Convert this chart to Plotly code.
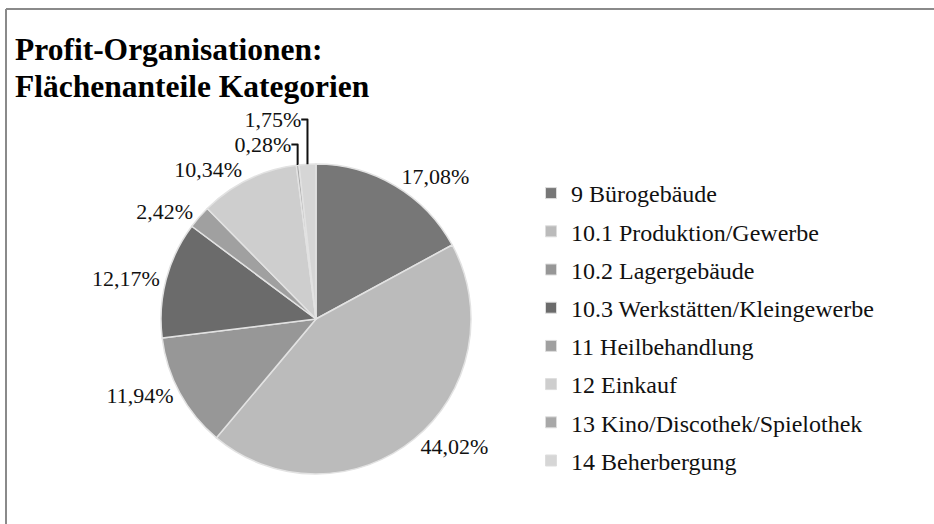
import plotly.graph_objects as go

categories = [
    "9 Bürogebäude",
    "10.1 Produktion/Gewerbe",
    "10.2 Lagergebäude",
    "10.3 Werkstätten/Kleingewerbe",
    "11 Heilbehandlung",
    "12 Einkauf",
    "13 Kino/Discothek/Spielothek",
    "14 Beherbergung",
]
shares = [17.08, 44.02, 11.94, 12.17, 2.42, 10.34, 0.28, 1.75]
colors = ["#777777", "#bbbbbb", "#979797", "#6b6b6b", "#a0a0a0", "#cecece", "#a8a8a8", "#d6d6d6"]
title_lines = ["Profit-Organisationen:", "Flächenanteile Kategorien"]

W, H = 934, 524
FONT = "Liberation Serif, Times New Roman, serif"

# pie geometry (pixels)
cx, cy, r = 316, 319, 155

fig = go.Figure()
fig.add_trace(go.Pie(
    labels=categories,
    values=shares,
    sort=False,
    direction="clockwise",
    rotation=0,
    marker=dict(colors=colors, line=dict(color="#e2e2e2", width=1.5)),
    textposition="outside",
    texttemplate="%{value:.2f}%",
    textfont=dict(family=FONT, size=22, color="#111111"),
    showlegend=False,
    domain=dict(x=[(cx - r) / W, (cx + r) / W], y=[(H - cy - r) / H, (H - cy + r) / H]),
    hoverinfo="label+percent",
))

for i, (c, col) in enumerate(zip(categories, colors)):
    fig.add_trace(go.Scatter(
        x=[None], y=[None], mode="markers", name=c,
        marker=dict(symbol="square", size=11, color=col, line=dict(color="#dddddd", width=1)),
        legendgroup=f"g{i}", showlegend=True, hoverinfo="skip",
    ))

annotations = []
for k, t in enumerate(title_lines):
    annotations.append(dict(
        text=f"<b>{t}</b>", xref="paper", yref="paper",
        x=13 / W, xanchor="left", y=1 - (50 + 36 * k) / H, yanchor="middle",
        showarrow=False, font=dict(family=FONT, size=31.5, color="#000000"),
    ))

fig.update_layout(
    width=W, height=H,
    margin=dict(l=0, r=0, t=0, b=0, autoexpand=False),
    paper_bgcolor="white", plot_bgcolor="white",
    separators=",.",
    xaxis=dict(visible=False), yaxis=dict(visible=False),
    annotations=annotations,
    legend=dict(
        x=531 / W, xanchor="left", y=1 - 171 / H, yanchor="top",
        font=dict(family=FONT, size=24, color="#111111"),
        tracegroupgap=4, itemwidth=30,
        bgcolor="rgba(0,0,0,0)",
    ),
    shapes=[
        dict(type="line", xref="paper", yref="paper", x0=6 / W, x1=1, y0=1 - 9 / H, y1=1 - 9 / H,
             line=dict(color="#8a8a8a", width=2)),
        dict(type="line", xref="paper", yref="paper", x0=6 / W, x1=6 / W, y0=0, y1=1 - 9 / H,
             line=dict(color="#8a8a8a", width=2)),
    ],
)

fig.write_html("out.html", config={"displayModeBar": False},
               post_script="document.body.style.margin='0px';")
